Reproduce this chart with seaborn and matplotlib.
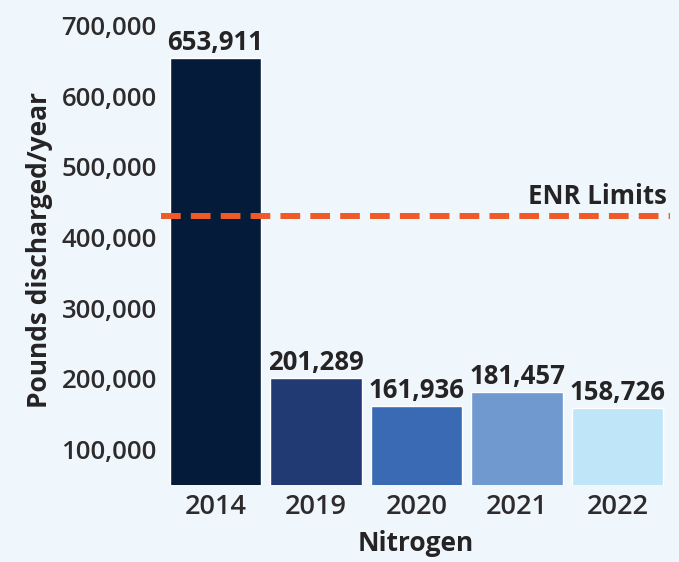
import pandas as pd
import matplotlib.pyplot as plt
import seaborn as sns

years = ["2014", "2019", "2020", "2021", "2022"]
pounds = [653911, 201289, 161936, 181457, 158726]
bar_colors = ["#041c3a", "#213a74", "#3a6ab3", "#6f99cf", "#bfe5f8"]
enr_limit = 430000
yticks = [100000, 200000, 300000, 400000, 500000, 600000, 700000]

df = pd.DataFrame({"year": years, "pounds": pounds})

bg = "#eff7fd"
txt = "#262324"

sns.set_style("white")
plt.rcParams["font.family"] = ["Open Sans", "DejaVu Sans"]

fig = plt.figure(figsize=(6.79, 5.62), dpi=100, facecolor=bg)
ax = fig.add_axes([161 / 679, 1 - 485 / 562, 509 / 679, 470 / 562])
ax.set_facecolor(bg)

sns.barplot(data=df, x="year", y="pounds", hue="year", palette=bar_colors,
            legend=False, width=0.91, saturation=1, ax=ax)

# value labels above the bars
for p, v in zip(ax.patches, pounds):
    ax.text(p.get_x() + p.get_width() / 2, v + 3000, f"{v:,}",
            ha="center", va="bottom", fontsize=18.5, fontweight="bold", color=txt)

ax.axhline(enr_limit, color="#f05a28", lw=4.3, ls=(0, (3.3, 1.7)))
ax.text(4.49, enr_limit + 9000, "ENR Limits", ha="right", va="bottom",
        fontsize=18.5, fontweight="bold", color=txt)

ax.set_xlim(-0.54, 4.52)
ax.set_ylim(50000, 715000)
ax.set_yticks(yticks)
ax.set_yticklabels([f"{t:,}" for t in yticks])
ax.tick_params(axis="y", length=0, labelsize=18.5, labelcolor="#2e2b2c", pad=3)
ax.tick_params(axis="x", length=0, labelsize=19.5, labelcolor="#2e2b2c", pad=6)
for lab in ax.get_xticklabels() + ax.get_yticklabels():
    lab.set_fontweight("semibold")

ax.set_xlabel("Nitrogen", fontsize=19, fontweight="bold", color=txt, labelpad=6)
ax.set_ylabel("Pounds discharged/year", fontsize=19, fontweight="bold", color=txt, labelpad=6)
sns.despine(ax=ax, left=True, bottom=True)

fig.savefig("out.png", dpi=100, facecolor=bg)
